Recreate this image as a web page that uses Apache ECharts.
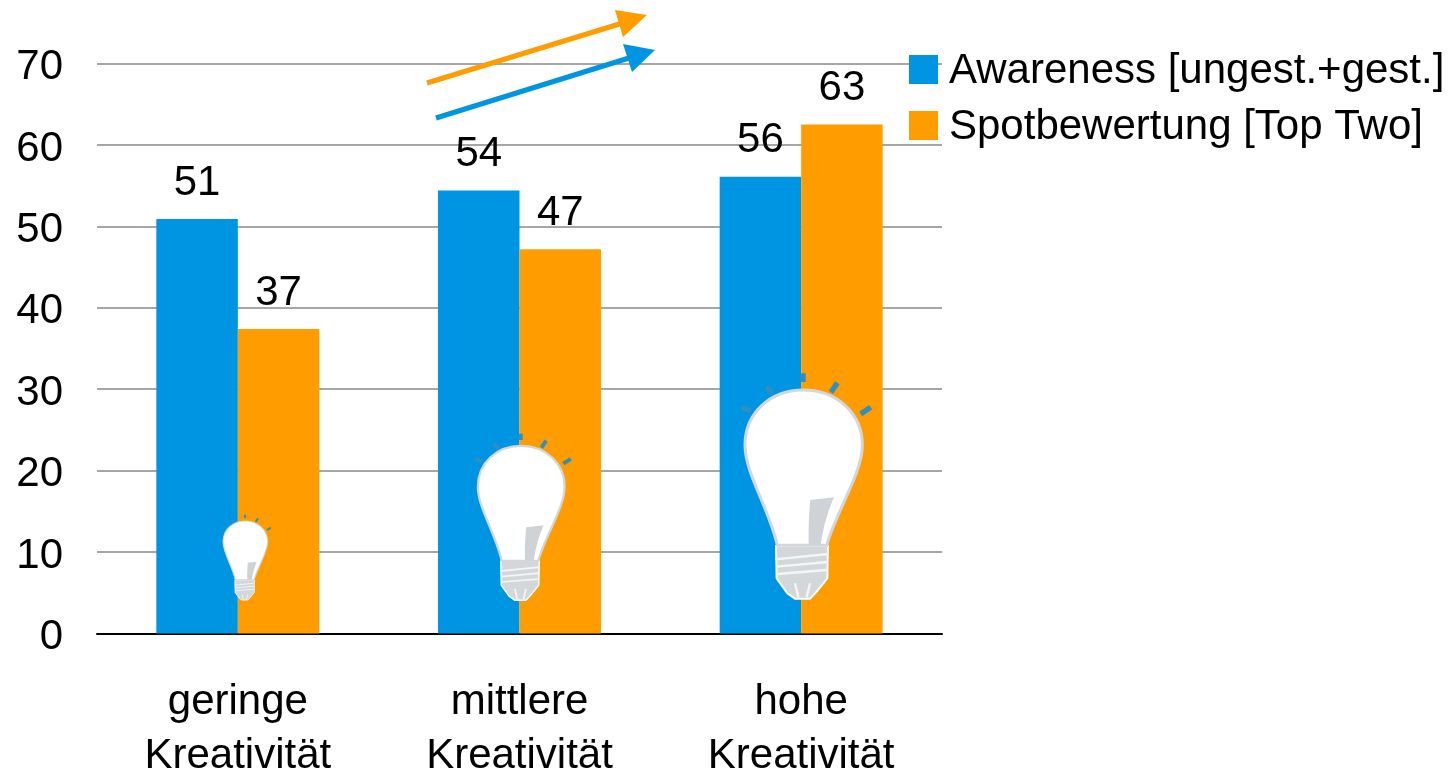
<!DOCTYPE html>
<html><head><meta charset="utf-8">
<style>html,body{margin:0;padding:0;background:#fff}#c{width:1448px;height:772px}</style>
<script src="https://cdn.jsdelivr.net/npm/echarts@6/dist/echarts.min.js"></script>
</head><body><div id="c"></div>
<script>
const categories = ['geringe\nKreativität', 'mittlere\nKreativität', 'hohe\nKreativität'];
const awareness = [50.9, 54.4, 56.1];
const spot = [37.4, 47.2, 62.5];
const BLUE = '#0095e3', ORANGE = '#ff9c00', FONT = '"Liberation Sans", Arial, sans-serif', FS = 42;

const glass = 'M232 556C205 440 135 340 135 255C135 160 210 90 310 90C410 90 487 160 487 255C487 340 410 450 380 556Z';
const shine = 'M331 420L402 412C385 450 370 500 362 555L326 553C325 510 327 460 331 420Z';
const collar = 'M228 558L384 558L382 655L350 695L330 716L285 716L262 700L230 655Z';
const threads = 'M226 598L384 582M230 620L382 606M232 642L380 630M285 670L295 712M330 670L320 712';
const rays = 'M125 142L152 152M200 80L220 100M309 40L309 66M393 97L412 68M482 162L512 142';
const shapes = { bulbGlass: glass, bulbShine: shine, bulbCollar: collar, bulbThreads: threads, bulbRays: rays };
Object.keys(shapes).forEach(k => echarts.graphic.registerShape(k, echarts.graphic.extendPath(shapes[k], {})));

function bulb(x, y, s) {
  return { type: 'group', x, y, scaleX: s, scaleY: s, z: 20, children: [
    { type: 'bulbRays', style: { fill: null, stroke: '#2f8fc0', lineWidth: 16 }, z: 20 },
    { type: 'bulbCollar', style: { fill: '#d4d7da', stroke: '#fff', lineWidth: 6 }, z: 21 },
    { type: 'bulbThreads', style: { fill: null, stroke: '#f4f5f6', lineWidth: 7 }, z: 22 },
    { type: 'bulbGlass', style: { fill: '#fff', stroke: '#d3d7da', lineWidth: 9 }, z: 23 },
    { type: 'bulbShine', style: { fill: '#cfd3d7' }, z: 24 }
  ]};
}
function arrow(x1, y1, x2, y2, head, color) {
  return { type: 'group', z: 30, children: [
    { type: 'line', shape: { x1, y1, x2, y2 }, style: { stroke: color, lineWidth: 5 }, z: 30 },
    { type: 'polygon', shape: { points: head }, style: { fill: color }, z: 31 }
  ]};
}
const label = { show: true, position: 'top', distance: 15, color: '#000', fontFamily: FONT, fontSize: FS,
  formatter: p => Math.round(p.value) };

const chart = echarts.init(document.getElementById('c'), null, { renderer: 'canvas' });
chart.setOption({
  animation: false,
  backgroundColor: '#fff',
  grid: { left: 97, right: 506, top: 63.5, bottom: 138.5, outerBoundsMode: 'none' },
  legend: {
    orient: 'vertical', left: 909, top: 50.5, itemWidth: 29, itemHeight: 29, itemGap: 14, selectedMode: false,
    icon: 'rect', itemStyle: { borderWidth: 0 }, padding: 0,
    formatter: n => '{t|' + n + '}',
    textStyle: { color: '#000', fontFamily: FONT, fontSize: FS,
      rich: { t: { color: '#000', fontFamily: FONT, fontSize: FS, padding: [4, 0, 0, 6] } } }
  },
  xAxis: {
    type: 'category', data: categories,
    axisTick: { show: false },
    axisLine: { lineStyle: { color: '#000', width: 2 } },
    axisLabel: { color: '#000', fontFamily: FONT, fontSize: FS, lineHeight: 54, margin: 42 }
  },
  yAxis: {
    type: 'value', min: 0, max: 70, interval: 10,
    axisLine: { show: false }, axisTick: { show: false },
    axisLabel: { color: '#000', fontFamily: FONT, fontSize: FS, margin: 34, verticalAlign: 'top', lineHeight: 8 },
    splitLine: { lineStyle: { color: '#a6a6a6', width: 2 } }
  },
  series: [
    { name: 'Awareness [ungest.+gest.]', type: 'bar', data: awareness, barWidth: 81.5, barGap: 0, itemStyle: { color: BLUE }, label },
    { name: 'Spotbewertung [Top Two]', type: 'bar', data: spot, barWidth: 81.5, barGap: 0, itemStyle: { color: ORANGE }, label }
  ],
  graphic: [
    bulb(206, 509.6, 0.1264),
    bulb(444.6, 423.8, 0.2464),
    bulb(700, 360, 1 / 3),
    arrow(427, 83, 621, 23.5, [[615, 10], [647, 15], [623, 37]], ORANGE),
    arrow(436, 118, 629, 58, [[623, 44], [655, 50], [632, 72]], BLUE)
  ]
});
</script></body></html>
